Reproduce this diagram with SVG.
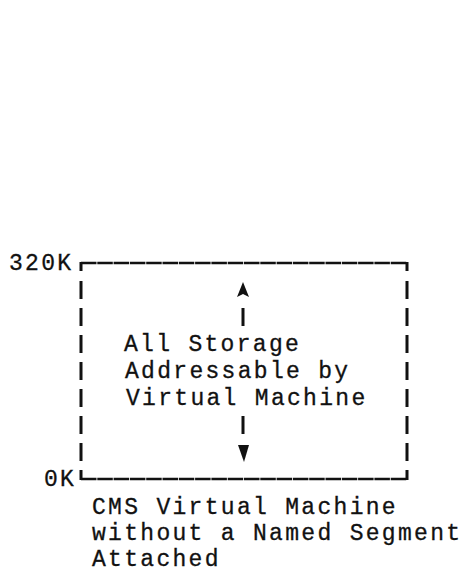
<svg xmlns="http://www.w3.org/2000/svg" width="464" height="573" viewBox="0 0 464 573">
<style>
.t{font-family:"Liberation Mono","DejaVu Sans Mono",monospace;font-size:23px;letter-spacing:2.3px;fill:#111;stroke:#111;stroke-width:0.3}
.bar{stroke:#111;stroke-width:3;fill:none;stroke-linecap:butt}
.edge{stroke:#111;stroke-width:2.6;fill:none;stroke-dasharray:15.5 0.8}
.ah{fill:#111;stroke:none}
</style>
<rect width="464" height="573" fill="#fff"/>
<g id="storage-box">
<path class="edge" d="M81,263 H407"/>
<path class="edge" d="M81,479 H407"/>
<path class="bar" d="M81,262 V271 M81,281 V299 M81,308 V326 M81,335 V353 M81,362 V380 M81,389 V407 M81,416 V434 M81,443 V461 M81,470 V480"/>
<path class="bar" d="M407,262 V271 M407,281 V299 M407,308 V326 M407,335 V353 M407,362 V380 M407,389 V407 M407,416 V434 M407,443 V461 M407,470 V480"/>
<text class="t" x="124" y="351">All Storage</text>
<text class="t" x="125" y="378">Addressable by</text>
<text class="t" x="126" y="405">Virtual Machine</text>
</g>
<g id="labels">
<text class="t" x="9" y="270">320K</text>
<text class="t" x="44" y="486">0K</text>
<text class="t" x="92" y="514">CMS Virtual Machine</text>
<text class="t" x="92" y="540">without a Named Segment</text>
<text class="t" x="92" y="566">Attached</text>
</g>
<g id="connectors">
<polygon class="ah" points="243,282 249,297 243,294 237,297"/>
<path class="bar" d="M243,308 V326 M243,416 V434"/>
<polygon class="ah" points="238,445 249,445 244,462"/>
</g>
</svg>
